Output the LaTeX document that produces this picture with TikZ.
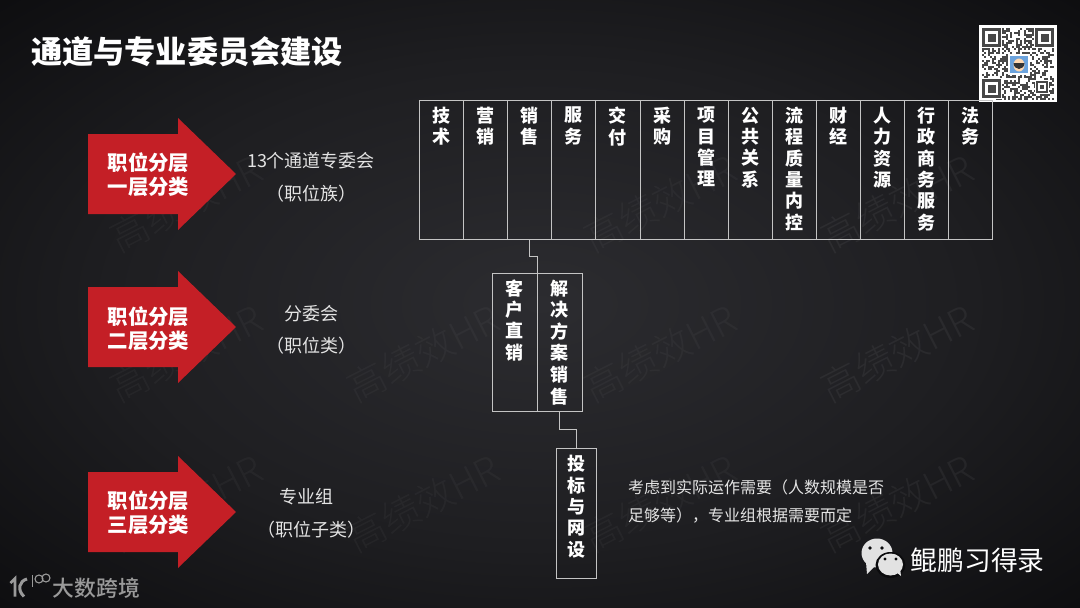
\documentclass[tikz,border=0pt]{standalone}
\usepackage{fontspec}
\setmainfont{Noto Sans CJK SC}
\newfontfamily\wmfont{Noto Sans CJK SC Light}
\newfontfamily\medfont{Noto Sans CJK SC Medium}
\usetikzlibrary{calc}
\definecolor{bgmid}{HTML}{2C2C30}
\definecolor{bgmid2}{HTML}{1E1E21}
\definecolor{bgedge}{HTML}{0B0B0D}
\definecolor{redarrow}{HTML}{C41F26}
\definecolor{boxline}{HTML}{C4C4C4}
\definecolor{labelgray}{HTML}{E4E4E4}
\definecolor{logogray}{HTML}{9A9A9A}
\definecolor{iconwhite}{HTML}{E2E2E2}
\pgfdeclareradialshading{bgglow}{\pgfpoint{0bp}{0bp}}{color(0bp)=(bgmid); color(20bp)=(bgmid2); color(38bp)=(bgedge); color(100bp)=(bgedge)}
\tikzset{
  cellbox/.style={draw=boxline,line width=1pt,minimum height=139pt,minimum width=44.1pt,inner sep=0pt,outer sep=0pt,anchor=north west},
  celltext/.style={text=white,font=\bfseries\fontsize{18}{21.3}\selectfont,align=center,anchor=north,inner sep=0pt},
  wire/.style={draw=boxline,line width=1pt},
  arrowtext/.style={text=white,font=\bfseries\fontsize{20.4}{24.5}\selectfont,align=center,inner sep=0pt},
  sidetext/.style={text=labelgray,font=\fontsize{18}{20}\selectfont,inner sep=0pt},
  notetext/.style={text=labelgray,font=\fontsize{16}{20}\selectfont,inner sep=0pt,anchor=west},
  watermark/.style={text=white,text opacity=#1,font=\wmfont\fontsize{38}{42}\selectfont,rotate=27,inner sep=0pt},
  watermark/.default=0.035,
}
\newcommand{\redshape}[1]{%
  \fill[redarrow] (88,#1-40) -- (178,#1-40) -- (178,#1-56) -- (236,#1) -- (178,#1+56) -- (178,#1+40) -- (88,#1+40) -- cycle;
}
\begin{document}
\begin{tikzpicture}[x=1pt,y=-1pt]
\useasboundingbox (0,0) rectangle (1080,608);
\shade[shading=bgglow] (0,0) rectangle (1080,608);

% watermarks
\foreach \x/\y in {186/203,186/353,186/503,423/353,423/503,660/203,660/353,660/503}
  \node[watermark] at (\x,\y) {高绩效HR};
\foreach \y in {203,353,503}
  \node[watermark=0.05] at (897,\y) {高绩效HR};

\node[text=white,font=\bfseries\fontsize{31.2}{36}\selectfont,anchor=west,inner sep=0pt] (title) at (31,52) {通道与专业委员会建设};

% QR
\fill[white] (979,25) rectangle (1057,102);
\pgfmathsetseed{4217}
\foreach \i in {0,...,35} \foreach \j in {0,...,35} {
  \pgfmathrandominteger{\r}{0}{99}
  \ifnum\r<48
    \fill[black!72] ({982+2*\i},{28+2*\j}) rectangle ++(2,2);
  \fi
}
\foreach \x/\y in {981/27,1034/27,981/78} {
  \fill[white] (\x,\y) rectangle ++(21,21);
  \fill[black!72] (\x+1,\y+1) rectangle ++(19,19);
  \fill[white] (\x+4,\y+4) rectangle ++(13,13);
  \fill[black!72] (\x+6.5,\y+6.5) rectangle ++(8,8);
}
\fill[white] (1035,80) rectangle ++(14,14);
\fill[black!72] (1036,81) rectangle ++(12,12);
\fill[white] (1038,83) rectangle ++(8,8);
\fill[black!72] (1040,85) rectangle ++(4,4);
\fill[white] (1008,54) rectangle ++(22,21);
\fill[cyan!60!blue!60] (1010,56) rectangle ++(18,17);
\fill[orange!30!white] (1019,65) ellipse (5.5 and 6.5);
\fill[black!80] (1013.5,63) arc[start angle=180,end angle=0,x radius=5.5,y radius=6] -- cycle;
\fill[black!80] (1015,64) rectangle ++(3,1.2) (1020,64) rectangle ++(3,1.2);

% top row
\foreach \n/\t [count=\k from 0] in {a/技\\术,b/营\\销,c/销\\售,d/服\\务,e/交\\付,f/采\\购,g/项\\目\\管\\理,h/公\\共\\关\\系,i/流\\程\\质\\量\\内\\控,j/财\\经,l/人\\力\\资\\源,m/行\\政\\商\\务\\服\\务,o/法\\务} {
  \node[cellbox] (\n) at ({419.5+44.1*\k},100) {};
  \node[celltext] (\n t) at ($(\n.north)+(0,7)$) {\t};
}

% second row
\node[cellbox,minimum width=45pt,minimum height=138.3pt] (kehu) at (492.3,273) {};
\node[cellbox,minimum width=45pt,minimum height=138.3pt] (jiejue) at (537.3,273) {};
\node[celltext] (kehut) at ($(kehu.north)+(-0.8,6.5)$) {客\\户\\直\\销};
\node[celltext,font=\bfseries\fontsize{18}{21.6}\selectfont] (jiejuet) at ($(jiejue.north)+(-0.8,6.5)$) {解\\决\\方\\案\\销\\售};

% third row
\node[cellbox,minimum width=40pt,minimum height=130pt] (tou) at (556.7,448.3) {};
\node[celltext] (tout) at ($(tou.north)+(0,7)$) {投\\标\\与\\网\\设};

% connectors
\coordinate (m1) at ($(c.south)!0.5!(jiejue.north west)$);
\draw[wire] (c.south) -- (c.south |- m1) -- (jiejue.north west |- m1) -- (jiejue.north west);
\coordinate (m2) at ($(jiejue.south)!0.5!(tou.north)$);
\draw[wire] (jiejue.south) ++(-0.8,0) coordinate (js) -- (js |- m2) -- (tou.north |- m2) -- (tou.north);

% red arrows
\redshape{174}
\redshape{327}
\redshape{512}
\node[arrowtext] (a1) at (148.5,174.5) {职位分层\\一层分类};
\node[arrowtext] (a2) at (148.5,328.5) {职位分层\\二层分类};
\node[arrowtext] (a3) at (148.5,512.5) {职位分层\\三层分类};

% side labels
\node[sidetext] (s1) at (311,161) {13个通道专委会};
\node[sidetext] (s2) at (311,194) {（职位族）};
\node[sidetext] (s3) at (311,314) {分委会};
\node[sidetext] (s4) at (311,346) {（职位类）};
\node[sidetext] (s5) at (306,497) {专业组};
\node[sidetext] (s6) at (311,530) {（职位子类）};
\node[notetext] (n1) at (628,487) {考虑到实际运作需要（人数规模是否};
\node[notetext] (n2) at (628,516) {足够等），专业组根据需要而定};

% wechat
\fill[iconwhite] (877,553) ellipse (15.5 and 14.5);
\fill[iconwhite] (866,562) -- (867,574) -- (875,566) -- cycle;
\fill[bgedge] (890.5,565) ellipse (15 and 13);
\fill[iconwhite] (890.5,564.5) ellipse (12.5 and 11);
\fill[iconwhite] (896,572) -- (901,576) -- (900,568) -- cycle;
\fill[bgedge] (870,548) circle (1.8) (882,548) circle (1.8) (885,559) circle (1.6) (896,559) circle (1.6);
\node[text=white,font=\fontsize{26.8}{30}\selectfont,anchor=west,inner sep=0pt] (brand) at (910.5,560) {鲲鹏习得录};

% bottom-left logo
\draw[logogray,line width=2.6pt] (10.5,583) -- (15,578.5) -- (15,596.5);
\draw[logogray,line width=3pt] (27,579) .. controls (19,581) and (17,590) .. (24,596.5);
\draw[logogray,line width=1.2pt] (32.5,575) -- (32.5,587);
\draw[logogray,line width=1.1pt] (39,579) circle (4) (46,578) circle (4);
\node[text=logogray,font=\medfont\fontsize{21.8}{24}\selectfont,anchor=west,inner sep=0pt] (dashu) at (52.5,588.5) {大数跨境};
\end{tikzpicture}
\end{document}
